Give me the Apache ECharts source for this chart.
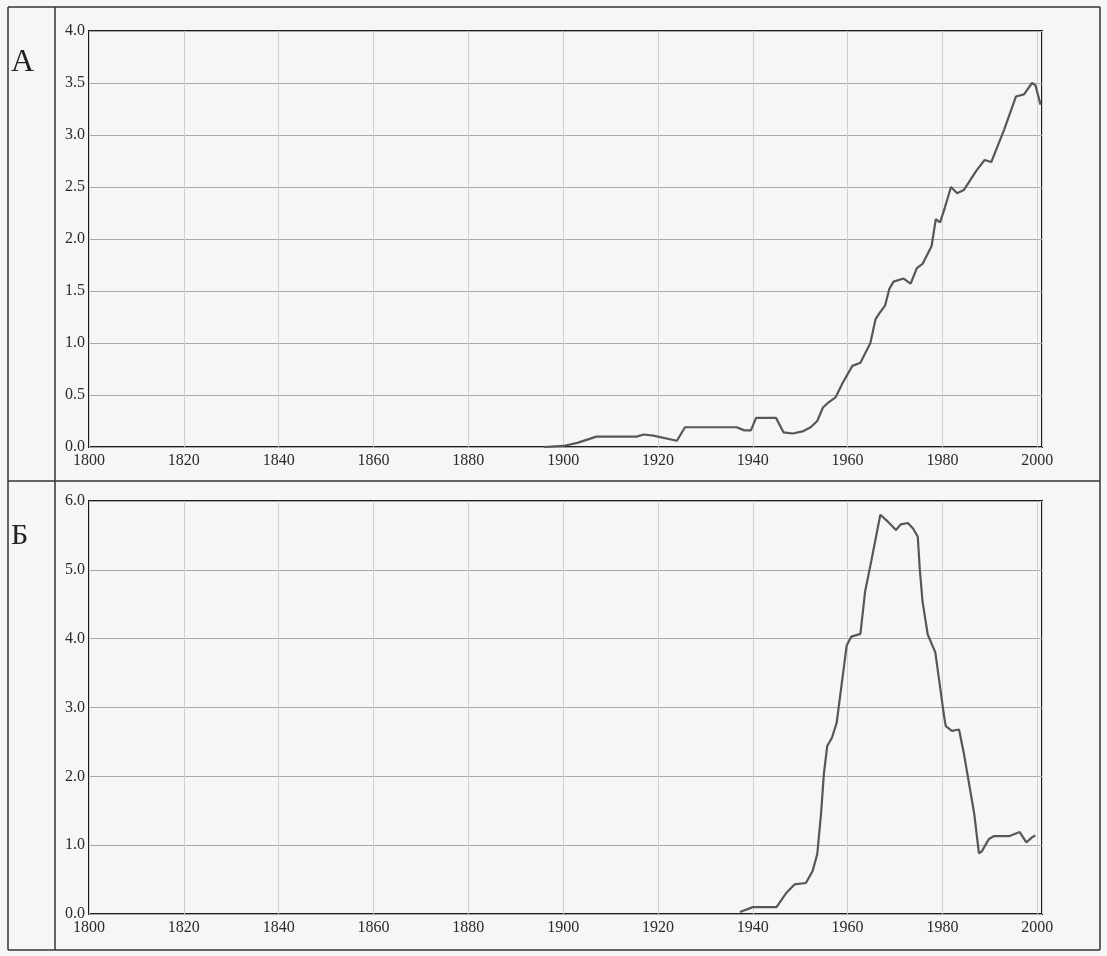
<!DOCTYPE html>
<html>
<head>
<meta charset="utf-8">
<script src="https://cdn.jsdelivr.net/npm/echarts@6/dist/echarts.min.js"></script>
<style>
html,body{margin:0;padding:0;background:#f6f6f4;}
#chart{width:1107px;height:956px;}
</style>
</head>
<body>
<div id="chart"></div>
<script>
// Panel labels
var panelLabels = ['А', 'Б'];

// Chart А
var yearsA = [1896, 1900, 1903, 1907, 1915.5, 1917, 1919, 1924, 1925.7, 1936.6, 1938.2, 1939.6, 1940.7, 1944.9, 1946.5, 1948.4, 1950.5, 1952.2, 1953.6, 1954.8, 1956, 1957.5, 1959, 1961, 1962.7, 1964.8, 1965.9, 1966.9, 1967.9, 1968.8, 1969.7, 1971.8, 1973.3, 1974.6, 1975.8, 1977.7, 1978.6, 1979.5, 1980.5, 1981.8, 1983.1, 1984.5, 1987.2, 1988.9, 1990.3, 1993, 1995.5, 1997.2, 1998.9, 1999.6, 2000.7];
var valuesA = [0, 0.01, 0.04, 0.10, 0.10, 0.12, 0.11, 0.06, 0.19, 0.19, 0.16, 0.16, 0.28, 0.28, 0.14, 0.13, 0.15, 0.19, 0.25, 0.38, 0.43, 0.48, 0.62, 0.78, 0.81, 1.0, 1.23, 1.30, 1.36, 1.52, 1.59, 1.62, 1.57, 1.72, 1.76, 1.93, 2.19, 2.16, 2.30, 2.50, 2.44, 2.47, 2.66, 2.76, 2.74, 3.05, 3.37, 3.39, 3.50, 3.48, 3.29];

// Chart Б
var yearsB = [1937.3, 1940, 1945, 1947, 1948.8, 1951.2, 1952.6, 1953.6, 1954.4, 1955, 1955.7, 1956.7, 1957.7, 1959.8, 1960.8, 1962.7, 1963.7, 1965, 1966.9, 1968.5, 1970.2, 1971.2, 1972.7, 1973.8, 1974.8, 1975.2, 1975.8, 1976.9, 1978.5, 1980.4, 1980.7, 1982, 1983.5, 1984.5, 1986.7, 1987.7, 1988.3, 1989.8, 1990.8, 1994, 1996.3, 1997.7, 1999, 1999.6];
var valuesB = [0.03, 0.1, 0.1, 0.3, 0.43, 0.45, 0.62, 0.87, 1.46, 2.04, 2.44, 2.56, 2.78, 3.9, 4.03, 4.07, 4.69, 5.13, 5.8, 5.7, 5.58, 5.66, 5.68, 5.6, 5.48, 5.03, 4.54, 4.06, 3.8, 2.85, 2.73, 2.66, 2.68, 2.34, 1.46, 0.88, 0.91, 1.09, 1.13, 1.13, 1.19, 1.04, 1.12, 1.14];

// Axis ranges
var xMin = 1800, xMax = 2001, xStep = 20;
var yMaxA = 4, yStepA = 0.5;
var yMaxB = 6, yStepB = 1;

function pairs(xs, ys) { return xs.map(function (x, i) { return [x, ys[i]]; }); }

var fontFam = '"Liberation Serif", "DejaVu Serif", serif';
var labelStyle = { color: '#2a2a2a', fontFamily: fontFam, fontSize: 16 };

function xAxis(gi) {
  return {
    type: 'value', gridIndex: gi, min: xMin, max: xMax, interval: xStep,
    axisLine: { show: false }, axisTick: { show: false },
    axisLabel: Object.assign({ margin: 6, formatter: function (v) { return v % xStep === 0 ? String(v) : ''; } }, labelStyle),
    splitLine: { show: true, lineStyle: { color: '#cfcfcf', width: 1 } }
  };
}
function yAxis(gi, max, step) {
  return {
    type: 'value', gridIndex: gi, min: 0, max: max, interval: step,
    axisLine: { show: false }, axisTick: { show: false },
    axisLabel: Object.assign({ margin: 4, formatter: function (v) { return v.toFixed(1); } }, labelStyle),
    splitLine: { show: true, lineStyle: { color: '#a8a8a8', width: 1 } }
  };
}

var chart = echarts.init(document.getElementById('chart'), null, { renderer: 'canvas' });
chart.setOption({
  backgroundColor: '#f6f6f4',
  animation: false,
  grid: [
    { left: 89, top: 31, width: 953, height: 416, show: true, borderColor: '#1e1e1e', borderWidth: 2, backgroundColor: 'transparent' },
    { left: 89, top: 501, width: 953, height: 413, show: true, borderColor: '#1e1e1e', borderWidth: 2, backgroundColor: 'transparent' }
  ],
  xAxis: [xAxis(0), xAxis(1)],
  yAxis: [yAxis(0, yMaxA, yStepA), yAxis(1, yMaxB, yStepB)],
  series: [
    { type: 'line', xAxisIndex: 0, yAxisIndex: 0, data: pairs(yearsA, valuesA), showSymbol: false, clip: false,
      lineStyle: { color: '#575757', width: 2.2 } },
    { type: 'line', xAxisIndex: 1, yAxisIndex: 1, data: pairs(yearsB, valuesB), showSymbol: false, clip: false,
      lineStyle: { color: '#575757', width: 2.2 } }
  ],
  graphic: [
    { type: 'line', shape: { x1: 8, y1: 7, x2: 1100, y2: 7 }, style: { stroke: '#333', lineWidth: 1.5 } },
    { type: 'line', shape: { x1: 8, y1: 7, x2: 8, y2: 950 }, style: { stroke: '#333', lineWidth: 1.5 } },
    { type: 'line', shape: { x1: 55, y1: 7, x2: 55, y2: 950 }, style: { stroke: '#333', lineWidth: 1.5 } },
    { type: 'line', shape: { x1: 1100, y1: 7, x2: 1100, y2: 950 }, style: { stroke: '#333', lineWidth: 1.5 } },
    { type: 'line', shape: { x1: 8, y1: 481, x2: 1100, y2: 481 }, style: { stroke: '#333', lineWidth: 1.5 } },
    { type: 'line', shape: { x1: 8, y1: 950, x2: 1100, y2: 950 }, style: { stroke: '#333', lineWidth: 1.5 } },
    { type: 'text', left: 11, top: 47, style: { text: panelLabels[0], fill: '#222', font: '32px ' + fontFam } },
    { type: 'text', left: 11, top: 521, style: { text: panelLabels[1], fill: '#222', font: '30px ' + fontFam } }
  ]
});
</script>
</body>
</html>
